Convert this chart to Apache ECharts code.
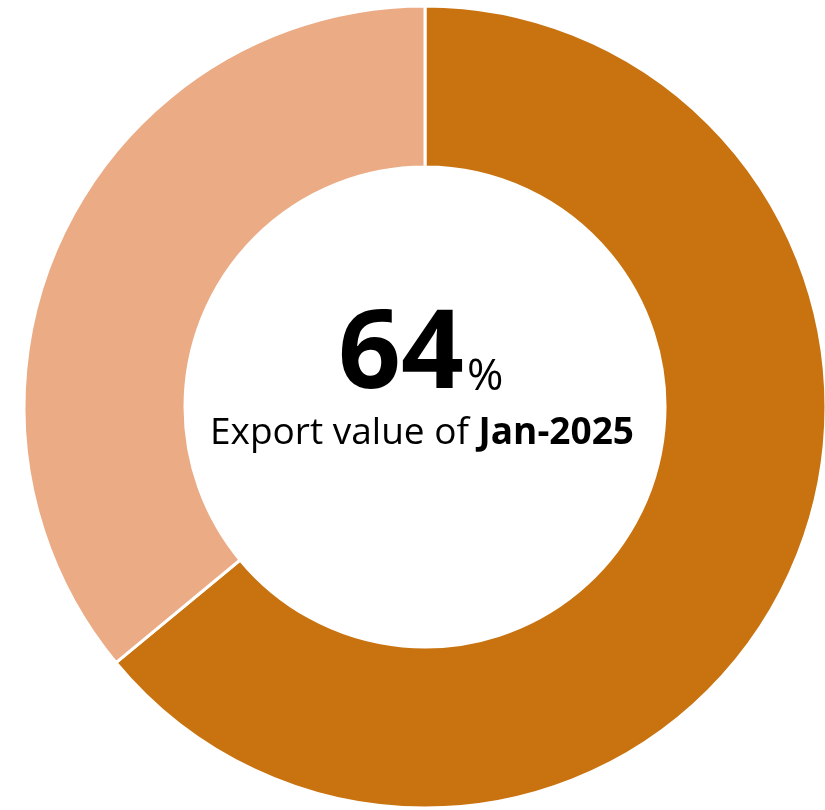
<!DOCTYPE html>
<html>
<head>
<meta charset="utf-8">
<script src="https://cdn.jsdelivr.net/npm/echarts@6/dist/echarts.min.js"></script>
<style>
  html, body { margin: 0; padding: 0; background: #fff; }
  #c { width: 825px; height: 810px; }
</style>
</head>
<body>
<div id="c"></div>
<script>
const names = ['Jan-2025', 'Rest']
const values = [64, 36]
const colors = ['#C97310', '#EAAB85']
const bigText = '64'
const unitText = '%'
const subText = 'Export value of '
const subBold = 'Jan-2025'

const chart = echarts.init(document.getElementById('c'))
chart.setOption({
  animation: false,
  series: [
    {
      type: 'pie',
      center: [425, 407],
      radius: [240, 401],
      startAngle: 90,
      clockwise: true,
      label: { show: false },
      labelLine: { show: false },
      itemStyle: { borderColor: '#fff', borderWidth: 3 },
      data: names.map((n, i) => ({ name: n, value: values[i], itemStyle: { color: colors[i] } })),
    },
  ],
  graphic: [
    {
      type: 'text',
      left: 338,
      top: 302,
      style: { text: bigText, font: 'bold 110px "Open Sans"', fill: '#000' },
    },
    {
      type: 'text',
      left: 467,
      top: 355,
      style: { text: unitText, font: '44px "Open Sans"', fill: '#000' },
    },
    {
      type: 'text',
      left: 210,
      top: 415,
      style: {
        text: '{a|' + subText + '}{b|' + subBold + '}',
        rich: {
          a: { font: '37px "Open Sans"', fill: '#000' },
          b: { font: 'bold 37px "Open Sans"', fill: '#000' },
        },
      },
    },
  ],
})
</script>
</body>
</html>
